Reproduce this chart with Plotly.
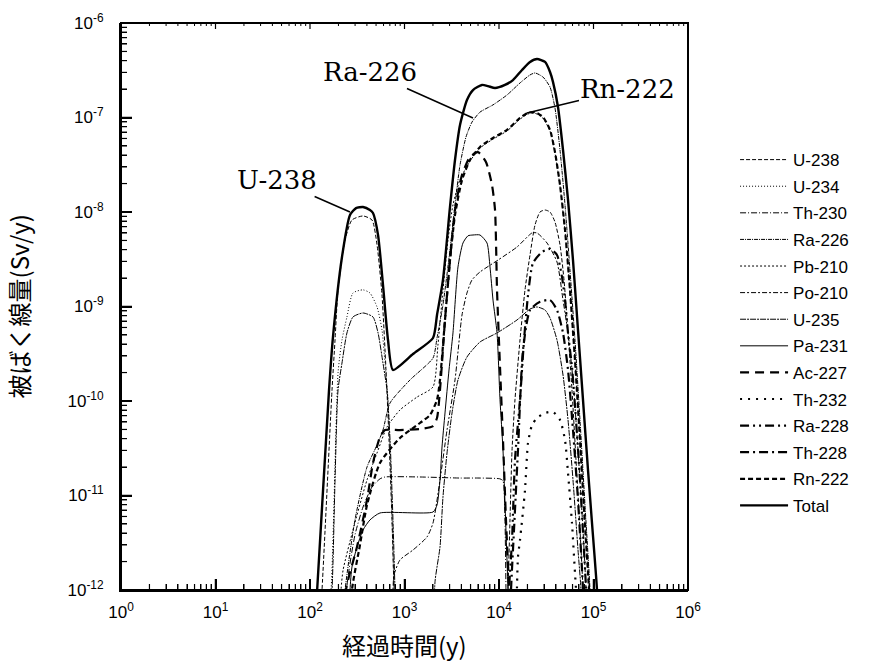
import math
import plotly.graph_objects as go

# Elapsed time (y) and dose (Sv/y) for each nuclide
t_u238 = [116, 134, 171, 184, 198, 235, 278, 364, 453, 512, 578, 637, 686, 738, 774, 833,
          None,
          11560, 12450, 13070, 13740, 14760, 16680, 18840, 21290, 24040, 27160, 30690,
          34670, 39130, 44220, 48760, 53750, 59190, 65290, 71950, 77420, 81270]
d_u238 = [1e-13, 1e-12, 1.31e-10, 4.42e-10, 1.5e-9, 5.06e-9, 8.23e-9, 9.08e-9, 8.23e-9,
          4.5e-9, 1.32e-9, 2.13e-10, 3.87e-11, 5.51e-12, 1e-12, 1e-13,
          None,
          1e-13, 1e-12, 5.51e-12, 3.03e-11, 1.03e-10, 4.42e-10, 1.5e-9, 3.51e-9, 7.28e-9,
          1.0e-8, 1.05e-8, 1.0e-8, 7.83e-9, 4.48e-9, 1.91e-9, 5.25e-10, 1.31e-10, 2.38e-11,
          4.32e-12, 1e-12, 1e-13]

t_u234 = [134, 167, 198, 218, 246, 285, 364, 431, 512, 578, 622, 669, 703, 738, 774, 813]
d_u234 = [1e-13, 1e-12, 1.98e-10, 4.42e-10, 7.75e-10, 1.39e-9, 1.5e-9, 1.39e-9, 9.89e-10,
          5.64e-10, 2.52e-10, 1.03e-10, 3.03e-11, 5.51e-12, 1e-12, 1e-13]

t_th230 = [229, 246, 299, 364, 453, 550, 622, 1459, 3867, 6295, 10250, 11020, 11560, 11850, 12150]
d_th230 = [1e-13, 1.1e-12, 3.82e-12, 7.55e-12, 1.23e-11, 1.5e-11, 1.57e-11, 1.57e-11,
           1.53e-11, 1.53e-11, 1.5e-11, 1.43e-11, 5.51e-12, 1e-12, 1e-13]

t_ra226 = [198, 235, 299, 401, 512, 592, 703, 1143, 2003, 2208, 2553, 3030, 3423, 3867, 4474,
           5180, 6295, 8643, 12150, 16680, 21290, 24040, 29230, 34670, 39130, 44220, 49950,
           56380, 63690, 71950, 81270, 91810, 98800]
d_ra226 = [1e-13, 1e-12, 5.51e-12, 2.0e-11, 3.42e-11, 4.93e-11, 9.53e-11, 1.67e-10, 2.85e-10,
           4.64e-10, 1.04e-9, 3.96e-9, 1.19e-8, 3.14e-8, 6.22e-8, 8.95e-8, 1.14e-7, 1.36e-7,
           1.73e-7, 2.32e-7, 2.82e-7, 2.96e-7, 2.68e-7, 2.10e-7, 1.26e-7, 4.53e-8, 1.19e-8,
           2.43e-9, 4.42e-10, 6.30e-11, 7.93e-12, 1e-12, 1e-13]

t_pb210 = [198, 213, 224, 285, 401, 512, 653, 896, 1356, 2003, 2260, 2553, 2885, 3258, 3867,
           4933, 6295, 8643, 12150, 16680, 20280, 24040, 29230, 34670, 39130, 44220, 49950,
           56380, 63690, 71950, 81270, 89600, 96400]
d_pb210 = [1e-13, 1e-12, 1.63e-12, 4.32e-12, 1.46e-11, 2.82e-11, 5.31e-11, 8.04e-11, 1.10e-10,
           1.41e-10, 3.92e-10, 1.5e-9, 5.06e-9, 1.19e-8, 2.2e-8, 3.45e-8, 4.75e-8, 5.9e-8,
           7.2e-8, 9.6e-8, 1.09e-7, 1.11e-7, 9.8e-8, 7.2e-8, 4.2e-8, 1.88e-8, 6.3e-9,
           1.45e-9, 2.65e-10, 3.75e-11, 4.7e-12, 1e-12, 1e-13]

t_po210 = [703, 755, 774, 896, 1230, 1730, 2003, 2375, 2818, 3423, 4060, 4581, 5180, 6295,
           9751, 15500, 22350, 25240, 32220, 41080, 47580, 53750, 60670, 68550, 77420, 83400,
           89600]
d_po210 = [1e-13, 1e-12, 1.44e-12, 2.08e-12, 2.65e-12, 3.64e-12, 5.12e-12, 1.46e-11, 4.93e-11,
           1.67e-10, 8.13e-10, 1.39e-9, 1.91e-9, 2.32e-9, 3.10e-9, 4.26e-9, 6.0e-9, 6.0e-9,
           4.70e-9, 2.96e-9, 1.17e-9, 5.25e-10, 1.67e-10, 3.03e-11, 4.32e-12, 1e-12, 1e-13]

t_u235 = [144, 171, 184, 198, 218, 246, 285, 364, 464, 525, 592, 653, 703, 755, 793, 833,
          None,
          2003, 2103, 2375, 2553, 2818, 3183, 3681, 4581, 6295, 9528, 15500, 21290, 25240,
          30690, 34670, 41080, 47580, 53750, 60670, 68550, 73700, 77420]
d_u235 = [1e-13, 1e-12, 1.46e-11, 1.31e-10, 2.52e-10, 5.25e-10, 7.75e-10, 8.54e-10, 7.75e-10,
          5.25e-10, 2.52e-10, 1.31e-10, 3.87e-11, 5.51e-12, 1e-12, 1e-13,
          None,
          1e-13, 1.22e-12, 2.85e-12, 9.64e-12, 2.82e-11, 7.47e-11, 1.67e-10, 2.92e-10, 4.21e-10,
          5.25e-10, 7.2e-10, 9.4e-10, 9.89e-10, 9.18e-10, 7.56e-10, 4.42e-10, 1.88e-10,
          6.3e-11, 1.46e-11, 2.65e-12, 1e-12, 1e-13]

t_pa231 = [246, 265, 278, 314, 364, 431, 550, 2003, 2208, 2375, 2494, 2683, 2958, 3258, 3681,
           4157, 4696, 5305, 6295, 7464, 8031, 8643, 9528, 10250, 11020, 11850, 12450, 13070]
d_pa231 = [1e-13, 1e-12, 1.75e-12, 2.85e-12, 4.32e-12, 5.51e-12, 6.53e-12, 6.69e-12, 7.93e-12,
           1.46e-11, 3.26e-11, 7.47e-11, 2.13e-10, 5.25e-10, 2.62e-9, 4.70e-9, 5.6e-9, 5.71e-9,
           5.71e-9, 4.70e-9, 2.62e-9, 1.17e-9, 5.25e-10, 1.03e-10, 3.03e-11, 4.32e-12, 1e-12, 1e-13]

t_ac227 = [213, 240, 314, 401, 464, 550, 622, 896, 1459, 2003, 2208, 2375, 2683, 3030, 3423,
           4060, 4933, 5995, 7280, 8432, 9078, 9528, 10250, 11020, 11850, 12760, 13400]
d_ac227 = [1e-13, 1e-12, 2.85e-12, 8.95e-12, 2.21e-11, 4.16e-11, 4.93e-11, 4.93e-11, 5.05e-11,
           5.43e-11, 6.6e-11, 1.31e-10, 7.2e-10, 3.10e-9, 1.05e-8, 2.47e-8, 3.82e-8, 4.3e-8,
           3.38e-8, 1.93e-8, 1.05e-8, 1.5e-9, 2.29e-10, 3.87e-11, 5.51e-12, 1e-12, 1e-13]

t_th232 = [15000, 15500, 15880, 16680, 18840, 20280, 22350, 25240, 30690, 37260, 44220, 49950,
           53750, 59190, 63690, 65290, 66870]
d_th232 = [1e-13, 1.08e-12, 2.24e-12, 3.38e-12, 1.14e-11, 3.6e-11, 5.57e-11, 6.6e-11, 7.47e-11,
           7.66e-11, 6.30e-11, 3.87e-11, 1.73e-11, 5.12e-12, 1.51e-12, 1e-12, 1e-13]

t_ra228 = [11850, 12760, 13740, 14760, 16680, 18400, 20280, 22900, 28510, 34670, 41080, 46420,
           49950, 53750, 59190, 65290, 71950, 79300, 83400, 87450]
d_ra228 = [1e-13, 1e-12, 3.38e-12, 2.38e-11, 1.03e-10, 4.42e-10, 1.32e-9, 2.89e-9, 3.77e-9,
           4.06e-9, 3.51e-9, 2.05e-9, 1.17e-9, 5.25e-10, 2.29e-10, 6.3e-11, 1.46e-11, 2.65e-12,
           1e-12, 1e-13]

t_th228 = [12450, 13400, 14410, 15880, 17950, 21290, 27160, 34670, 41080, 47580, 53750, 60670,
           68550, 75540, 77420, 81270]
d_th228 = [1e-13, 1e-12, 4.32e-12, 3.03e-11, 3.47e-10, 9.18e-10, 1.12e-9, 1.17e-9, 9.18e-10,
           5.25e-10, 2.13e-10, 4.93e-11, 8.95e-12, 1.63e-12, 1e-12, 1e-13]

t_rn222 = [252, 278, 338, 401, 550, 896, 1459, 1862, 2208, 2375, 2683, 3030, 3423, 4060, 4933,
           6295, 8643, 12150, 16680, 20280, 24040, 29230, 34670, 39130, 44220, 49950, 56380,
           63690, 71950, 81270, 89600, 96400]
d_rn222 = [1e-13, 1e-12, 2.99e-12, 7.93e-12, 2.21e-11, 4.06e-11, 5.85e-11, 7.11e-11, 1.03e-10,
           1.67e-10, 7.2e-10, 3.10e-9, 9.30e-9, 2.18e-8, 3.55e-8, 4.88e-8, 6.07e-8, 7.38e-8,
           9.89e-8, 1.12e-7, 1.14e-7, 1.01e-7, 7.38e-8, 4.3e-8, 1.93e-8, 6.45e-9, 1.5e-9,
           2.72e-10, 3.87e-11, 4.88e-12, 1e-12, 1e-13]

t_total = [102, 119, 159, 175, 218, 265, 307, 364, 431, 464, 525, 592, 669, 755, 1230, 2003,
           2208, 2553, 3030, 3423, 3867, 4581, 5305, 6607, 7650, 9078, 11560, 14060, 17510,
           21290, 25240, 30690, 34670, 37260, 42100, 47580, 53750, 60670, 68550, 77420, 87450,
           96400, 108900, 120000]
d_total = [1e-13, 1e-12, 1.31e-10, 4.75e-10, 3.34e-9, 9.3e-9, 1.10e-8, 1.13e-8, 1.05e-8,
           9.76e-9, 5.7e-9, 1.69e-9, 4.42e-10, 2.13e-10, 3.14e-10, 4.64e-10, 8.13e-10, 1.91e-9,
           1.13e-8, 3.55e-8, 8.33e-8, 1.53e-7, 1.95e-7, 2.21e-7, 2.15e-7, 2.05e-7, 2.21e-7,
           2.49e-7, 3.18e-7, 3.87e-7, 4.16e-7, 3.87e-7, 3.03e-7, 2.38e-7, 1.29e-7, 4.53e-8,
           1.34e-8, 3.10e-9, 5.64e-10, 1.03e-10, 1.86e-11, 5.12e-12, 1e-12, 1e-13]

# name, x, y, line width, dash pattern
series = [
    ("U-238", t_u238, d_u238, 1.0, "4px,2px"),
    ("U-234", t_u234, d_u234, 1.0, "1px,2px"),
    ("Th-230", t_th230, d_th230, 1.0, "6px,2px,1px,2px"),
    ("Ra-226", t_ra226, d_ra226, 1.0, "4px,1px,1px,1px"),
    ("Pb-210", t_pb210, d_pb210, 1.0, "2px,2px"),
    ("Po-210", t_po210, d_po210, 1.0, "5px,2px,2px,2px"),
    ("U-235", t_u235, d_u235, 1.0, "6px,1px,2px,1px"),
    ("Pa-231", t_pa231, d_pa231, 1.0, "solid"),
    ("Ac-227", t_ac227, d_ac227, 2.2, "9px,6px"),
    ("Th-232", t_th232, d_th232, 2.2, "2px,6px"),
    ("Ra-228", t_ra228, d_ra228, 2.2, "9px,4px,2px,4px,2px,4px"),
    ("Th-228", t_th228, d_th228, 2.2, "9px,4px,2px,4px"),
    ("Rn-222", t_rn222, d_rn222, 2.2, "5px,3px"),
    ("Total", t_total, d_total, 2.4, "solid"),
]

fig = go.Figure()
for name, xs, ys, w, dash in series:
    fig.add_trace(go.Scatter(
        x=xs, y=ys, name=name, legendgroup=name, mode="lines",
        line=dict(color="black", width=w, dash=dash, shape="spline", smoothing=0.6),
        connectgaps=False,
    ))

# decade tick labels: default SI labels of the log axes -> power-of-ten text
x_default = ["1", "10", "100", "1000", "10k", "100k", "1M"]
x_ticktext = ["10<sup>0</sup>", "10<sup>1</sup>", "10<sup>2</sup>", "10<sup>3</sup>",
              "10<sup>4</sup>", "10<sup>5</sup>", "10<sup>6</sup>"]
y_default = ["1p", "10p", "100p", "1n", "10n", "100n", "1\u03bc"]
y_ticktext = ["10<sup>-12</sup>", "10<sup>-11</sup>", "10<sup>-10</sup>", "10<sup>-9</sup>",
              "10<sup>-8</sup>", "10<sup>-7</sup>", "10<sup>-6</sup>"]
x_alias = dict(zip(x_default, x_ticktext))
y_alias = dict(zip(y_default, y_ticktext))
y_alias["1\u00b5"] = "10<sup>-6</sup>"

X_RANGE = [0, 6]
Y_RANGE = [-12, -6]

tick_font = dict(family="Liberation Sans, Arial, sans-serif", size=17, color="black")
axis_common = dict(
    type="log", dtick=1, showgrid=False, zeroline=False,
    ticks="inside", ticklen=11, tickwidth=1.5, tickcolor="black",
    minor=dict(ticks="inside", dtick="D1", ticklen=6, tickwidth=1.2, tickcolor="black",
               showgrid=False),
    showline=True, linewidth=2, linecolor="black",
    tickfont=tick_font,
)

# inward tick marks along the frame, placed in paper coordinates of the plot area
plot_px = 567.0
x_major = [1, 10, 100, 1000, 10000, 100000, 1000000]
x_minor = [m * 10 ** e for e in range(0, 6) for m in range(2, 10)]
y_major = [1e-12, 1e-11, 1e-10, 1e-9, 1e-8, 1e-7, 1e-6]
y_minor = [m * 10.0 ** e for e in range(-12, -6) for m in range(2, 10)]


def x_frac(v):
    return (math.log10(v) - X_RANGE[0]) / (X_RANGE[1] - X_RANGE[0])


def y_frac(v):
    return (math.log10(v) - Y_RANGE[0]) / (Y_RANGE[1] - Y_RANGE[0])


tick_shapes = [dict(type="rect", xref="paper", yref="paper", x0=0, x1=1, y0=0, y1=1,
                    line=dict(color="black", width=2), fillcolor="rgba(0,0,0,0)")]
for v in x_major:
    f = x_frac(v)
    tick_shapes.append(dict(type="line", xref="paper", yref="paper", x0=f, x1=f,
                            y0=0, y1=11 / plot_px, line=dict(color="black", width=1.5)))
    tick_shapes.append(dict(type="line", xref="paper", yref="paper", x0=f, x1=f,
                            y0=1, y1=1 - 6 / plot_px, line=dict(color="black", width=1.2)))
for v in x_minor:
    f = x_frac(v)
    tick_shapes.append(dict(type="line", xref="paper", yref="paper", x0=f, x1=f,
                            y0=0, y1=6 / plot_px, line=dict(color="black", width=1.2)))
    tick_shapes.append(dict(type="line", xref="paper", yref="paper", x0=f, x1=f,
                            y0=1, y1=1 - 3 / plot_px, line=dict(color="black", width=1)))
for v in y_major:
    f = y_frac(v)
    tick_shapes.append(dict(type="line", xref="paper", yref="paper", x0=0, x1=11 / plot_px,
                            y0=f, y1=f, line=dict(color="black", width=1.5)))
for v in y_minor:
    f = y_frac(v)
    tick_shapes.append(dict(type="line", xref="paper", yref="paper", x0=0, x1=6 / plot_px,
                            y0=f, y1=f, line=dict(color="black", width=1.2)))

fig.update_layout(
    width=874, height=669,
    margin=dict(l=121, r=186, t=23, b=79),
    paper_bgcolor="white", plot_bgcolor="white",
    xaxis=dict(range=X_RANGE, labelalias=x_alias, ticklabelstandoff=6, **axis_common),
    yaxis=dict(range=Y_RANGE, labelalias=y_alias, ticklabelstandoff=12, **axis_common),
    legend=dict(x=1.083, y=0.79, xanchor="left", yanchor="top",
                font=dict(family="Liberation Sans, Arial, sans-serif", size=17, color="black"),
                itemwidth=48, bgcolor="rgba(0,0,0,0)", tracegroupgap=1.5),
    showlegend=True,
    shapes=tick_shapes,
)

label_font = dict(family="DejaVu Serif, serif", size=26, color="black")
jp_font = dict(family="Noto Sans CJK JP, sans-serif", size=24, color="black")

annotations = [
    # nuclide call-outs with leader lines (log10 positions on both axes)
    dict(x=2.423, y=-8.0, xref="x", yref="y", text="U-238", font=label_font,
         showarrow=True, arrowhead=0, arrowwidth=1.5, arrowcolor="black", ax=-73, ay=-32),
    dict(x=3.725, y=-7.005, xref="x", yref="y", text="Ra-226", font=label_font,
         showarrow=True, arrowhead=0, arrowwidth=1.5, arrowcolor="black", ax=-103, ay=-46),
    dict(x=4.296, y=-6.952, xref="x", yref="y", text="Rn-222", font=label_font,
         showarrow=True, arrowhead=0, arrowwidth=1.5, arrowcolor="black", ax=101, ay=-24),
    # axis titles
    dict(x=-0.18, y=0.5, xref="paper", yref="paper", xanchor="center", yanchor="middle",
         text="被ばく線量(Sv/y)", textangle=-90, showarrow=False, font=jp_font),
    dict(x=0.5, y=-0.097, xref="paper", yref="paper", xanchor="center", yanchor="middle",
         text="経過時間(y)", showarrow=False, font=jp_font),
]
fig.update_layout(annotations=annotations)

fig.write_html("out.html")
